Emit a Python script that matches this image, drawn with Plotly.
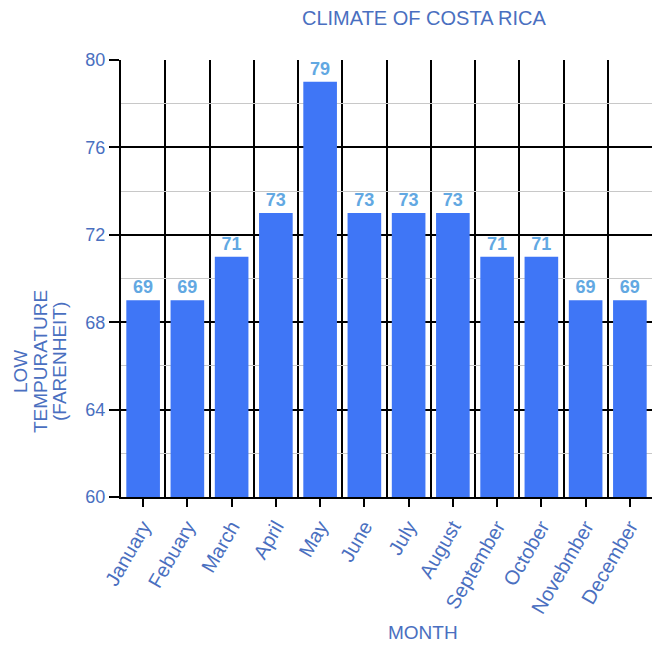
import plotly.graph_objects as go

months = ["January", "Febuary", "March", "April", "May", "June", "July",
          "August", "September", "October", "Novebmber", "December"]
low_temps = [69, 69, 71, 73, 79, 73, 73, 73, 71, 71, 69, 69]
y_ticks = [60, 64, 68, 72, 76, 80]
y_title_lines = ["LOW", "TEMPURATURE", "(FARENHEIT)"]

label_blue = "#4a6fc0"
bar_color = "#3f76f6"
text_blue = "#62a8e2"
font_fam = "Liberation Sans, Arial, sans-serif"

idx = list(range(len(months)))

fig = go.Figure()
fig.add_trace(go.Bar(
    x=idx, y=low_temps, marker_color=bar_color, marker_line_width=0,
    width=0.76, text=[str(v) for v in low_temps], textposition="outside",
    textfont=dict(color=text_blue, size=18, family=font_fam, weight="bold"),
    cliponaxis=False, showlegend=False,
))

ML, MR, MT, MB = 121, 0, 60, 148
W, H = 652, 645
pw, ph = W - ML - MR, H - MT - MB
def px(xp):
    return (xp - ML) / pw
def py(yp):
    return (H - MB - yp) / ph

annotations = [
    dict(text="CLIMATE OF COSTA RICA", xref="paper", yref="paper",
         x=px(424), y=py(18), xanchor="center", yanchor="middle",
         showarrow=False, font=dict(size=20, color=label_blue)),
    dict(text="MONTH", xref="paper", yref="paper",
         x=px(423), y=py(632), xanchor="center", yanchor="middle",
         showarrow=False, font=dict(size=19, color=label_blue)),
]
for line, xc, yc in zip(y_title_lines, [21, 40, 59], [372, 362, 362]):
    annotations.append(dict(
        text=line, xref="paper", yref="paper", x=px(xc), y=py(yc),
        xanchor="center", yanchor="middle", textangle=-90, showarrow=False,
        font=dict(size=19, color=label_blue)))

fig.update_layout(
    width=W, height=H,
    margin=dict(l=ML, r=MR, t=MT, b=MB),
    paper_bgcolor="white", plot_bgcolor="white",
    font=dict(family=font_fam, color=label_blue),
    xaxis=dict(
        range=[-0.5, 11.5], tickvals=idx, ticktext=months,
        ticks="outside", ticklen=8, tickwidth=1.5, tickcolor="black",
        showgrid=False, zeroline=False,
        showline=True, linecolor="black", linewidth=2,
        tickangle=-60, tickfont=dict(size=20, color=label_blue),
        minor=dict(tick0=-0.5, dtick=1, showgrid=True, gridcolor="black",
                   gridwidth=2, ticks=""),
    ),
    yaxis=dict(
        range=[60, 80], tickvals=y_ticks, ticks="outside", ticklen=10,
        tickwidth=1.5, tickcolor="black", showline=True, linecolor="black",
        linewidth=2, showgrid=True, gridcolor="black", gridwidth=1.5,
        zeroline=False, tickfont=dict(size=18, color=label_blue),
        minor=dict(tick0=60, dtick=2, showgrid=True, gridcolor="#c8c8c8",
                   gridwidth=1, ticks=""),
    ),
    annotations=annotations,
)

fig.write_html("out.html")
